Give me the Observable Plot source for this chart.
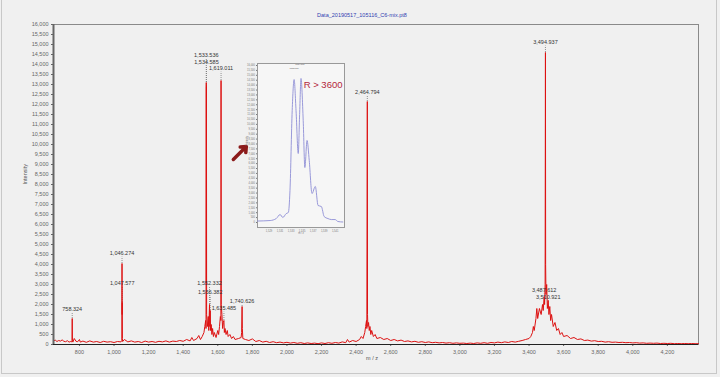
<!DOCTYPE html>
<html><head><meta charset="utf-8">
<script src="https://cdn.jsdelivr.net/npm/d3@7"></script>
<script src="https://cdn.jsdelivr.net/npm/@observablehq/plot@0.6"></script>
<style>
html,body{margin:0;padding:0;background:#f0f0f0;}
#wrap{position:relative;width:720px;height:377px;overflow:hidden;background:#f0f0f0;font-family:"Liberation Sans",Arial,sans-serif;}
#title{position:absolute;top:12px;left:312px;width:100px;text-align:center;font-size:5.5px;color:#3040b0;}
#inset{position:absolute;left:230px;top:55px;}
#border{position:absolute;left:1px;top:-2px;width:716px;height:376px;border:1px solid #c8c8c8;box-sizing:border-box;pointer-events:none;}
</style></head>
<body><div id="wrap"><div id="border"></div><div id="title">Data_20190517_105116_C6-mix.pt8</div><div id="main"></div><div id="inset"></div></div>
<script>
// main spectrum (m/z, intensity)
const specMz = [650,660,670,680,690,700,710,720,730,740,750,755,757,758.3,759.5,762,770,780,790,800,805,820,840,860,880,900,920,940,960,980,1000,1020,1040,1045,1046.3,1047.0,1047.6,1048.5,1050,1060,1080,1100,1120,1140,1160,1180,1200,1220,1240,1260,1280,1300,1320,1340,1360,1380,1400,1420,1440,1450,1460,1480,1490,1500,1510,1520,1525,1530,1532,1533.5,1534.0,1534.6,1535.5,1540,1545,1548,1552.3,1554,1556.4,1558,1562,1566,1570,1575,1580,1590,1600,1605,1610,1615,1618,1619.0,1620,1624,1628,1632,1635.5,1638,1642,1648,1655,1660,1670,1680,1690,1700,1720,1735,1738,1740.6,1742,1745,1760,1780,1800,1820,1840,1860,1880,1900,1920,1940,1960,1980,2000,2020,2040,2060,2080,2100,2120,2140,2160,2180,2200,2220,2240,2260,2280,2300,2320,2340,2350,2360,2380,2400,2420,2430,2440,2450,2455,2460,2462,2464.8,2466,2468,2472,2476,2480,2485,2490,2500,2510,2520,2540,2560,2580,2600,2620,2640,2660,2680,2700,2720,2740,2760,2780,2800,2820,2840,2860,2880,2900,2920,2940,2960,2980,3000,3020,3040,3060,3080,3100,3120,3140,3160,3180,3200,3220,3240,3260,3280,3300,3320,3340,3360,3380,3400,3410,3420,3425,3430,3440,3445,3450,3460,3470,3478,3482,3487.6,3490,3493,3494.9,3496,3498,3502,3506,3510.9,3515,3520,3525,3530,3540,3550,3560,3570,3580,3590,3600,3620,3640,3660,3680,3700,3720,3740,3760,3780,3800,3820,3840,3860,3880,3900,3920,3940,3960,3980,4000,4020,4040,4060,4080,4100,4120,4140,4160,4180,4200,4220,4240,4260,4280,4300,4320,4340,4360,4380];
const specInt = [180,220,150,200,170,230,160,140,190,120,150,130,200,1300,180,120,300,160,140,250,120,170,110,180,120,150,100,160,120,140,100,150,130,200,4050,1500,2100,300,150,250,130,180,120,150,100,170,120,150,110,160,130,180,120,170,150,200,160,250,180,350,200,300,450,250,400,600,900,1200,800,13100,3000,12900,1500,900,1400,700,2000,900,1700,700,1000,500,800,400,600,350,700,500,900,1400,1200,13200,2000,1500,800,1100,1200,600,800,500,700,400,500,300,400,250,300,350,600,1900,800,300,250,200,280,150,200,120,160,100,140,90,120,80,110,70,100,60,90,50,80,50,70,40,80,50,90,60,100,70,130,90,250,120,200,150,250,400,300,600,900,1200,800,12150,1500,900,1100,700,900,500,700,400,500,300,350,250,300,200,250,180,220,150,180,130,160,110,140,100,130,90,110,80,100,70,90,60,80,60,70,50,70,50,80,60,90,60,100,80,120,90,130,100,150,120,160,200,250,300,400,600,900,700,1300,1800,1300,1800,1500,2000,1700,2400,2000,3000,14600,4000,2500,3000,1800,2200,1500,1900,1200,1500,900,1100,700,800,500,600,400,450,300,350,250,280,200,220,170,190,150,160,120,140,110,120,100,110,90,100,80,90,70,80,60,70,60,70,50,60,50,60,40,50,40,50,40,50,40,40];

// peak annotations
const peakMz    = [758.324,1046.274,1047.577,1533.536,1534.585,1619.011,1552.332,1556.382,1635.485,1740.626,2464.794,3494.937,3487.612,3510.921];
const peakText  = ["758.324","1,046.274","1,047.577","1,533.536","1,534.585","1,619.011","1,552.332","1,556.382","1,635.485","1,740.626","2,464.794","3,494.937","3,487.612","3,510.921"];
const peakTop   = [1300,4050,2100,13100,12900,13200,2000,1700,1200,1900,12150,14600,2400,2200];
const peakLabel = [1750,4550,3050,14450,14100,13800,3050,2600,1800,2150,12600,15100,2700,2350];

const xTicks = [800,1000,1200,1400,1600,1800,2000,2200,2400,2600,2800,3000,3200,3400,3600,3800,4000,4200];
const yTicks = d3.range(0, 16001, 500);

// annotation arrow (tail -> head) in main data coordinates
const arrowAnn = [{x1:1690, y1:9250, x2:1765, y2:9900}];

// inset: zoom on the 1533/1534 doublet
const insetMz  = [1526.9,1529.2,1530.3,1531.0,1531.5,1532.1,1532.5,1532.8,1533.2,1533.55,1533.9,1534.3,1534.55,1534.8,1535.2,1535.5,1535.9,1536.3,1536.8,1537.4,1537.9,1538.5,1539.0,1539.7,1540.3,1541.0,1541.5,1542.4];
const insetInt = [150,200,400,815,510,900,1020,3260,11400,14570,11400,7030,11000,14680,10400,5600,8360,6300,2950,3670,1730,1630,610,400,300,300,100,50];
const insetPeakMz = [1533.536,1534.585];
const insetPeakText = ["1533.536","1534.585"];
const insetPeakLabel = [15750,16120];
const insetXTicks = [1529,1531,1533,1535,1537,1539,1541];
const insetYTicks = d3.range(0, 16001, 500);

const spec = specMz.map((m,i)=>({mz:m, int:specInt[i]}));
const peaks = peakMz.map((m,i)=>({mz:m, text:peakText[i], top:peakTop[i], label:peakLabel[i], lead:peakLabel[i]-180}));
const fmt = d3.format(",");

const main = Plot.plot({
  width:720, height:377,
  marginLeft:53, marginRight:22, marginTop:24, marginBottom:33,
  style:{background:"transparent", fontFamily:"Liberation Sans, Arial, sans-serif", fontSize:"5.5px", color:"#666"},
  x:{domain:[650,4380], ticks:xTicks, tickFormat:fmt, tickSize:2, tickPadding:4, label:null},
  y:{domain:[0,16000], ticks:yTicks, tickFormat:fmt, tickSize:2, tickPadding:3, label:null},
  marks:[
    Plot.frame({stroke:"#8a8a8a", strokeWidth:1}),
    Plot.ruleX(peaks, {x:"mz", y1:"top", y2:"lead", stroke:"#777", strokeDasharray:"1,1", strokeWidth:0.8}),
    Plot.line(spec, {x:"mz", y:"int", stroke:"#dd1111", strokeWidth:1}),
    Plot.text(peaks, {x:"mz", y:"label", text:"text", fill:"#333", fontSize:5.5}),
    Plot.ruleX([650], {stroke:"#666", strokeWidth:2}),
    Plot.ruleY([0], {stroke:"#222", strokeWidth:1}),
    Plot.arrow(arrowAnn, {x1:"x1", y1:"y1", x2:"x2", y2:"y2", stroke:"#8b1a1a", strokeWidth:3.5, headLength:9, headAngle:80}),
    Plot.text(["Intensity"], {frameAnchor:"left", rotate:-90, dx:-28, fill:"#555", fontSize:5.5}),
    Plot.text(["m / z"], {frameAnchor:"bottom", dy:15, dx:-4, fill:"#555", fontSize:5.5})
  ]
});
document.getElementById("main").appendChild(main);

const ins = insetMz.map((m,i)=>({mz:m, int:insetInt[i]}));
const insPeaks = insetPeakMz.map((m,i)=>({mz:m, text:insetPeakText[i], label:insetPeakLabel[i]}));
const inset = Plot.plot({
  width:120, height:180,
  marginLeft:27, marginRight:6, marginTop:8, marginBottom:8,
  style:{background:"transparent", fontFamily:"Liberation Sans, Arial, sans-serif", fontSize:"2.6px", color:"#777"},
  x:{domain:[1526.9,1542.7], ticks:insetXTicks, tickFormat:fmt, tickSize:1, tickPadding:1.5, label:null},
  y:{domain:[-510,16204], ticks:insetYTicks, tickFormat:fmt, tickSize:1, tickPadding:1.5, label:null},
  marks:[
    Plot.frame({stroke:"#999", fill:"#f6f6f6"}),
    Plot.line(ins, {x:"mz", y:"int", stroke:"#8f8fd6", strokeWidth:0.9, curve:"monotone-x"}),
    Plot.text(insPeaks, {x:"mz", y:"label", text:"text", fill:"#666", fontSize:2.2}),
    Plot.text(["R > 3600"], {frameAnchor:"top-right", dx:-2, dy:18, fill:"#b3263a", fontSize:9.5, textAnchor:"end"}),
    Plot.text(["Intensity"], {frameAnchor:"left", rotate:-90, dx:-10, fill:"#777", fontSize:2.6}),
    Plot.text(["m / z"], {frameAnchor:"bottom", dy:6, fill:"#777", fontSize:2.6})
  ]
});
document.getElementById("inset").appendChild(inset);
</script></body></html>
